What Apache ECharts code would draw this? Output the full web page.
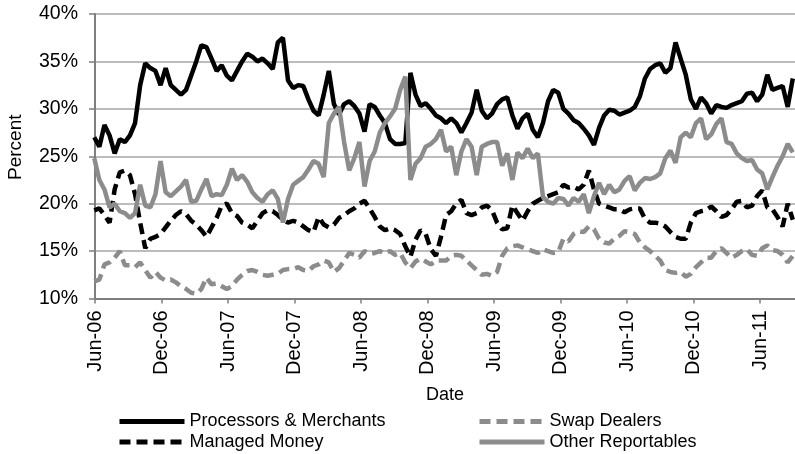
<!DOCTYPE html>
<html>
<head>
<meta charset="utf-8">
<script src="https://cdn.jsdelivr.net/npm/echarts@6/dist/echarts.min.js"></script>
<style>
  html, body { margin: 0; padding: 0; background: #fff; }
  #chart { width: 795px; height: 454px; }
</style>
</head>
<body>
<div id="chart"></div>
<script>
  // report dates: every 2 weeks, first one just before the Jun-06 tick
  var firstDate = '2006-05-30';
  var stepDays = 14;
  var pointCount = 138;
  var axisStart = '2006-06-01';
  var halfYearDays = 182.625;

  var tickLabels = ['Jun-06', 'Dec-06', 'Jun-07', 'Dec-07', 'Jun-08', 'Dec-08',
    'Jun-09', 'Dec-09', 'Jun-10', 'Dec-10', 'Jun-11'];

  var processors = [27.0,
    26.0, 28.3, 27.2, 25.3, 26.8, 26.5, 27.2, 28.5, 32.5, 34.8, 34.3, 34.0, 32.5, 34.3, 32.5, 32.0, 31.5, 32.0, 33.5, 35.0, 36.7, 36.5, 35.3,
    34.0, 34.6, 33.5, 33.0, 34.0, 35.0, 35.8, 35.5, 35.0, 35.3, 34.8, 34.2, 37.0, 37.5, 33.0, 32.2, 32.5, 32.4, 31.0, 29.8, 29.3, 31.5, 34.0,
    30.5, 29.4, 30.5, 30.8, 30.3, 29.5, 27.6, 30.5, 30.2, 29.3, 28.5, 26.8, 26.3, 26.3, 26.4, 33.8, 31.5, 30.3, 30.6, 30.0, 29.3, 29.0, 28.5,
    29.0, 28.5, 27.5, 28.5, 29.6, 32.0, 29.8, 29.0, 29.5, 30.5, 31.0, 31.2, 29.3, 27.9, 29.0, 29.5, 27.8, 27.0, 28.5, 30.8, 32.0, 31.7, 30.0,
    29.5, 28.8, 28.5, 27.9, 27.2, 26.2, 28.0, 29.3, 29.9, 29.8, 29.4, 29.6, 29.8, 30.2, 31.3, 33.2, 34.2, 34.6, 34.8, 33.8, 34.3, 37.0, 35.3,
    33.6, 31.0, 30.0, 31.2, 30.6, 29.5, 30.4, 30.2, 30.1, 30.4, 30.6, 30.8, 31.6, 31.7, 30.8, 31.5, 33.6, 32.0, 32.2, 32.4, 30.2, 33.2];

  var swapDealers = [11.8,
    12.0, 13.6, 13.8, 14.3, 15.0, 13.5, 13.5, 13.3, 13.8, 13.0, 12.2, 12.8, 12.2, 11.9, 12.0, 11.7, 11.3, 11.0, 10.6, 10.5, 11.0, 12.2, 11.5,
    11.6, 11.3, 11.0, 11.3, 12.0, 12.5, 12.9, 13.0, 12.8, 12.5, 12.4, 12.5, 12.6, 13.0, 13.1, 13.1, 13.3, 13.0, 12.9, 13.4, 13.6, 14.0, 13.8,
    12.8, 13.2, 14.0, 14.8, 14.6, 14.3, 15.0, 14.7, 14.8, 15.0, 14.7, 15.0, 14.6, 14.8, 13.8, 13.2, 13.9, 14.2, 13.9, 13.6, 14.0, 14.0, 14.0,
    14.5, 14.6, 14.5, 14.0, 13.5, 13.0, 12.5, 12.6, 12.4, 12.8, 14.5, 15.3, 15.5, 15.6, 15.4, 15.2, 15.0, 14.8, 15.2, 15.0, 14.8, 14.9, 16.3,
    16.0, 16.8, 17.1, 17.0, 17.6, 17.3, 16.3, 15.9, 15.8, 16.3, 16.6, 17.1, 17.0, 16.8, 15.9, 15.4, 15.0, 14.5, 14.0, 13.0, 12.8, 12.7, 12.8,
    12.3, 12.6, 13.3, 13.8, 14.3, 14.3, 15.0, 15.3, 14.8, 14.3, 14.6, 15.0, 15.2, 14.6, 14.5, 15.3, 15.6, 15.1, 15.0, 14.6, 13.8, 14.5];

  var managedMoney = [19.3,
    19.5, 18.8, 18.0, 21.5, 23.3, 23.5, 23.0, 21.0, 18.0, 15.3, 16.3, 16.5, 16.8, 17.5, 18.2, 18.8, 19.2, 18.9, 18.2, 17.8, 17.2, 16.5, 17.5,
    18.5, 19.8, 20.0, 19.0, 18.7, 18.0, 17.8, 17.4, 18.2, 19.0, 19.3, 19.2, 18.8, 18.3, 18.0, 18.2, 18.0, 17.6, 17.2, 17.0, 18.6, 17.8, 17.5,
    17.8, 18.5, 18.8, 19.2, 19.5, 20.0, 20.3, 19.5, 18.6, 17.6, 17.2, 17.4, 17.2, 16.8, 15.5, 14.4, 16.2, 17.2, 16.8, 15.2, 14.5, 16.5, 18.8,
    19.2, 20.0, 20.4, 19.0, 18.8, 19.0, 19.6, 19.8, 19.3, 18.0, 17.3, 17.4, 19.8, 19.0, 18.2, 19.2, 20.0, 20.3, 20.6, 20.8, 21.0, 21.2, 22.0,
    21.7, 21.8, 21.5, 22.0, 23.5, 21.5, 20.0, 19.8, 19.6, 19.4, 19.4, 19.1, 19.4, 19.5, 19.5, 18.4, 18.0, 18.0, 17.9, 17.6, 17.0, 16.5, 16.3,
    16.3, 18.0, 19.0, 19.2, 19.3, 19.7, 19.2, 18.6, 18.8, 19.4, 20.2, 20.3, 19.6, 19.8, 20.8, 21.4, 19.6, 19.4, 18.6, 17.6, 20.0, 18.3];

  var otherReportables = [24.8,
    22.5, 21.5, 19.6, 20.0, 19.2, 19.0, 18.5, 19.0, 22.0, 19.8, 19.6, 21.0, 24.5, 21.2, 20.8, 21.3, 21.8, 22.5, 20.2, 20.3, 21.5, 22.6, 20.8,
    21.0, 20.9, 22.0, 23.7, 22.5, 23.0, 22.3, 21.2, 20.6, 20.2, 21.0, 21.4, 20.5, 18.0, 20.5, 22.0, 22.4, 22.8, 23.6, 24.5, 24.2, 22.8, 28.5,
    29.5, 30.2, 26.5, 23.5, 24.8, 26.5, 21.8, 24.5, 25.5, 27.5, 28.5, 29.2, 30.0, 32.0, 33.4, 22.5, 24.2, 24.8, 26.0, 26.3, 26.8, 27.8, 25.5,
    26.0, 23.0, 25.5, 26.8, 26.0, 23.0, 26.0, 26.3, 26.5, 26.5, 24.0, 25.3, 22.5, 25.4, 24.8, 25.8, 24.8, 25.3, 20.7, 20.2, 20.0, 20.6, 20.5,
    19.8, 20.6, 20.2, 21.0, 19.0, 20.8, 22.2, 21.0, 22.0, 21.2, 21.5, 22.4, 22.9, 21.4, 22.2, 22.7, 22.6, 22.8, 23.2, 24.8, 25.6, 24.3, 27.0,
    27.5, 27.0, 28.5, 29.0, 26.8, 27.3, 28.4, 29.0, 26.5, 26.3, 25.3, 24.8, 24.5, 24.6, 23.6, 23.2, 21.5, 22.8, 24.0, 25.0, 26.3, 25.4];

  var DAY = 86400000;
  var t0 = Date.parse(axisStart);
  var dates = [];
  for (var i = 0; i < pointCount; i++) {
    dates.push(new Date(Date.parse(firstDate) + i * stepDays * DAY).toISOString().slice(0, 10));
  }
  // days since the Jun-06 tick
  var xDays = dates.map(function (d) { return (Date.parse(d) - t0) / DAY; });

  function pairs(values) {
    return values.map(function (v, i) { return [xDays[i], v]; });
  }

  var font = "'Liberation Sans', Arial, sans-serif";
  var black = '#000000';
  var grey = '#8c8c8c';

  function legendBox(left, names) {
    return {
      orient: 'vertical',
      left: left,
      top: 411.5,
      padding: 0,
      itemGap: 0.6,
      itemWidth: 65,
      itemHeight: 14,
      itemStyle: { opacity: 0 },
      lineStyle: { width: 5 },
      textStyle: { fontSize: 18, lineHeight: 20, color: '#000', fontFamily: font },
      data: names
    };
  }

  var chart = echarts.init(document.getElementById('chart'), null, { renderer: 'canvas' });
  chart.setOption({
    animation: false,
    textStyle: { fontFamily: font },
    grid: { left: 95, right: 0, top: 14, bottom: 155.5, containLabel: false, outerBoundsMode: 'none' },
    xAxis: {
      type: 'value',
      min: 0,
      max: 1922,
      interval: halfYearDays,
      name: 'Date',
      nameLocation: 'middle',
      nameGap: 88,
      nameTextStyle: { fontSize: 18, color: '#000', fontFamily: font },
      axisLine: { lineStyle: { color: '#7f7f7f', width: 2 } },
      axisTick: { show: true, length: 5, lineStyle: { color: '#7f7f7f', width: 1.5 } },
      splitLine: { show: false },
      axisLabel: {
        rotate: 90,
        margin: 12,
        fontSize: 20,
        color: '#000',
        fontFamily: font,
        showMaxLabel: false,
        formatter: function (v) {
          var idx = Math.round(v / halfYearDays);
          return Math.abs(v - idx * halfYearDays) < 1 ? (tickLabels[idx] || '') : '';
        }
      }
    },
    yAxis: {
      type: 'value',
      min: 10,
      max: 40,
      interval: 5,
      name: 'Percent',
      nameLocation: 'middle',
      nameGap: 70,
      nameTextStyle: { fontSize: 19, color: '#000', fontFamily: font, padding: [0, 0, 0, 18] },
      axisLine: { show: true, lineStyle: { color: '#7f7f7f', width: 2 } },
      axisTick: { show: true, length: 6, lineStyle: { color: '#7f7f7f', width: 1.5 } },
      splitLine: { lineStyle: { color: '#a6a6a6', width: 1.5 } },
      axisLabel: { margin: 17, fontSize: 19.5, color: '#000', fontFamily: font, formatter: '{value}%' }
    },
    legend: [
      legendBox(117, ['Processors & Merchants', 'Managed Money']),
      legendBox(477, ['Swap Dealers', 'Other Reportables'])
    ],
    series: [{
      name: 'Processors & Merchants',
      type: 'line',
      symbol: 'none',
      data: pairs(processors),
      lineStyle: { color: black, width: 4.5 },
      itemStyle: { color: black }
    }, {
      name: 'Swap Dealers',
      type: 'line',
      symbol: 'none',
      data: pairs(swapDealers),
      lineStyle: { color: grey, width: 4.5, type: [11, 6] },
      itemStyle: { color: grey }
    }, {
      name: 'Managed Money',
      type: 'line',
      symbol: 'none',
      data: pairs(managedMoney),
      lineStyle: { color: black, width: 4.5, type: [11, 6] },
      itemStyle: { color: black }
    }, {
      name: 'Other Reportables',
      type: 'line',
      symbol: 'none',
      data: pairs(otherReportables),
      lineStyle: { color: grey, width: 4.5 },
      itemStyle: { color: grey }
    }]
  });
</script>
</body>
</html>
